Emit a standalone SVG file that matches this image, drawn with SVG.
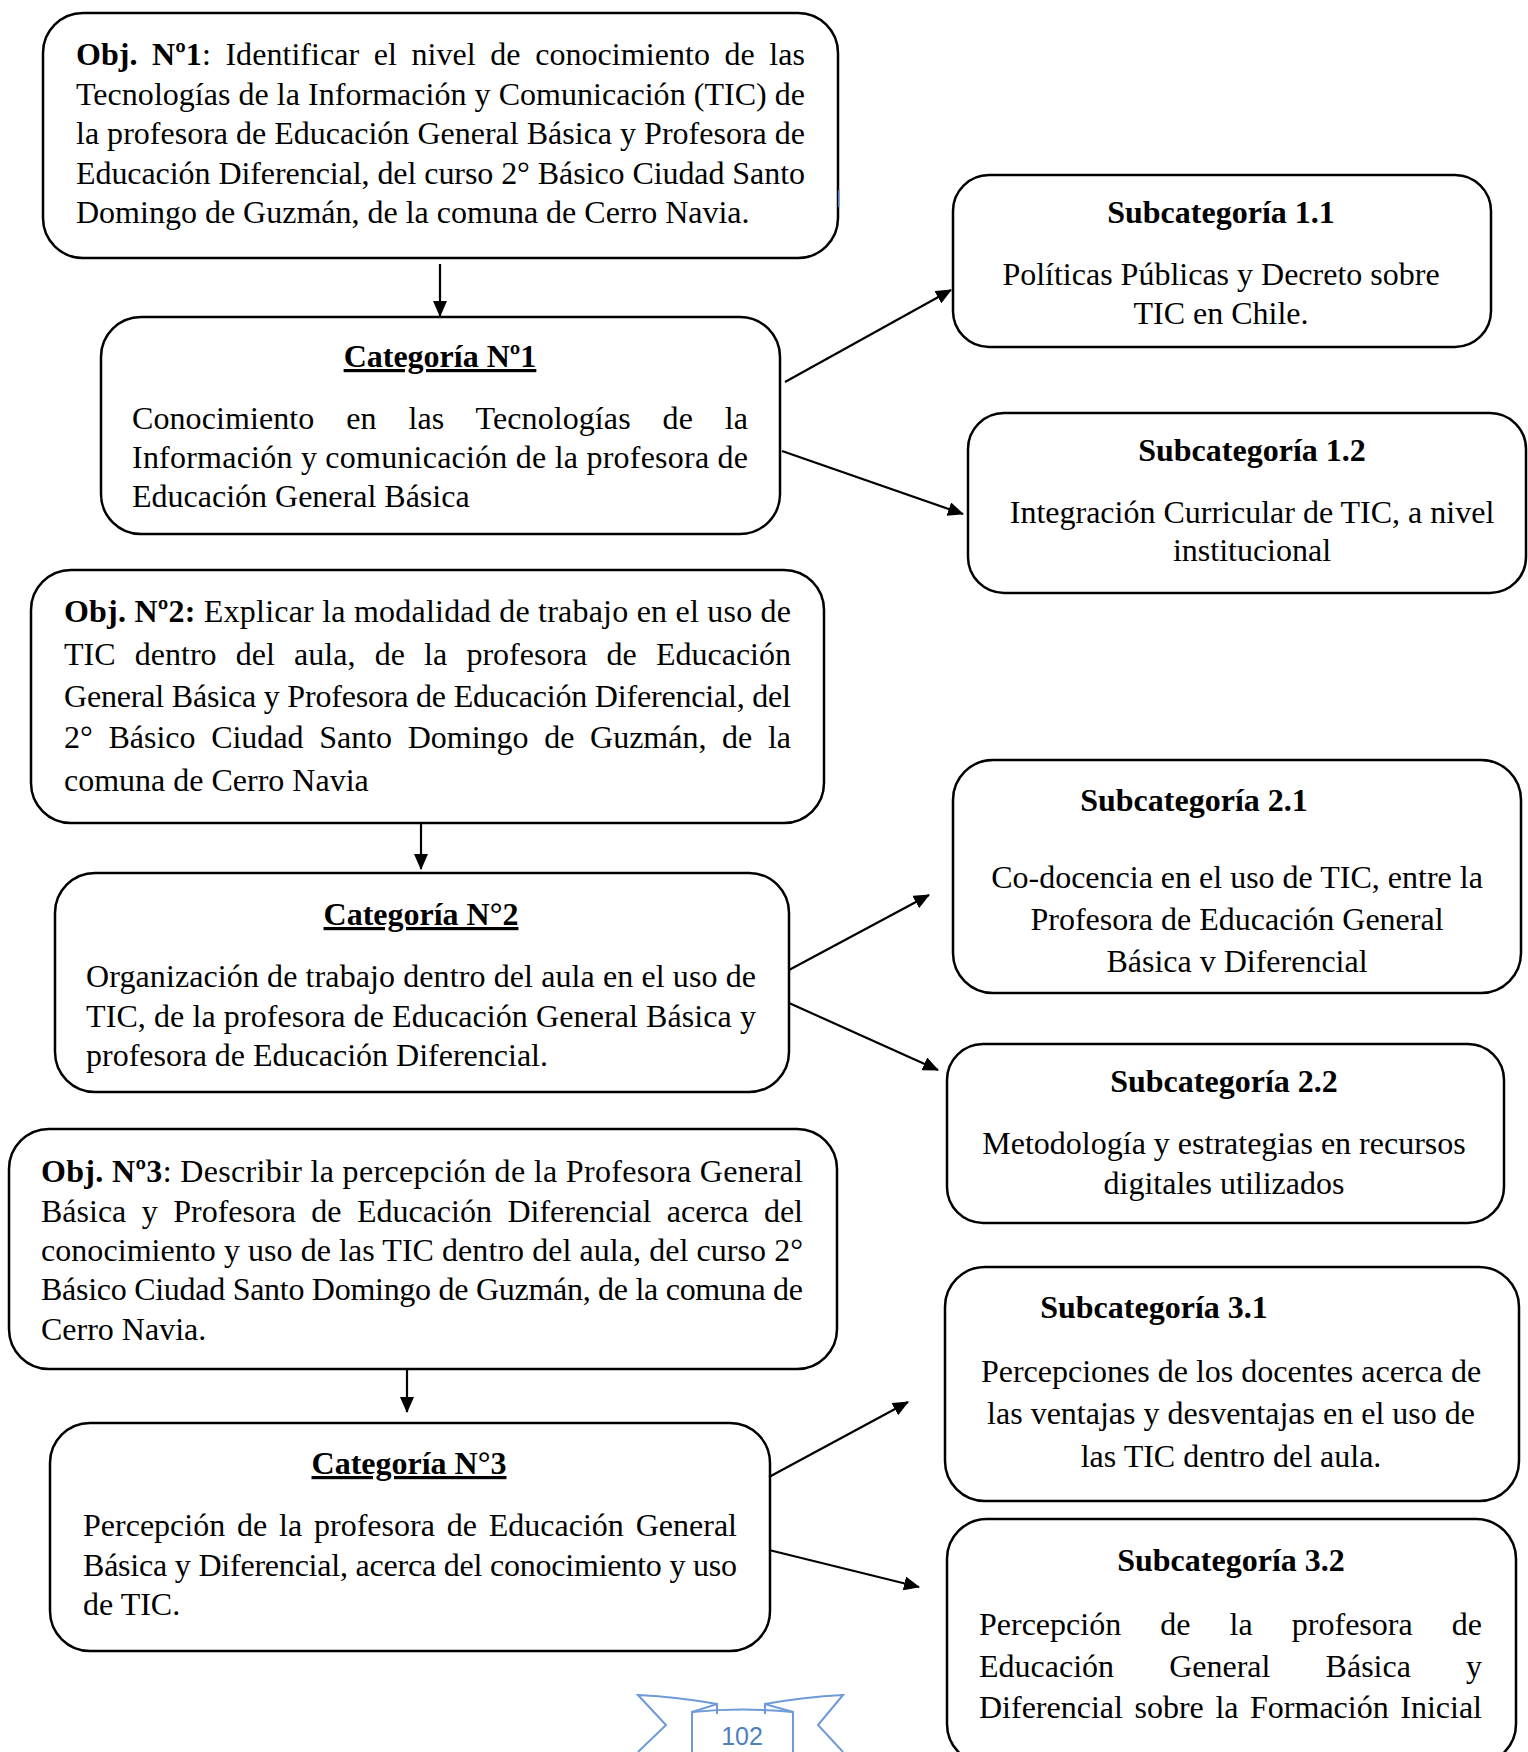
<svg xmlns="http://www.w3.org/2000/svg" width="1528" height="1752" viewBox="0 0 1528 1752">
<defs>
<style>
.box{fill:#fff;stroke:#000;stroke-width:2.5}
.t{font-family:"Liberation Serif","Times New Roman",serif;font-size:32px;fill:#000}
.b{font-weight:bold}
.u{text-decoration:underline}
.c{text-anchor:middle}
.conn line{stroke:#000;stroke-width:2.2;marker-end:url(#ah)}
</style>
<marker id="ah" markerUnits="userSpaceOnUse" markerWidth="16" markerHeight="14" refX="15" refY="7" orient="auto">
<path d="M0,0 L16,7 L0,14 Z" fill="#000"/>
</marker>
</defs>
<rect width="1528" height="1752" fill="#fff"/>

<g id="obj1">
<rect class="box" x="43" y="13" width="795" height="245" rx="40"/>
<text class="t" x="76" y="65" textLength="729" lengthAdjust="spacing" word-spacing="6.5"><tspan class="b">Obj. Nº1</tspan>: Identificar el nivel de conocimiento de las</text>
<text class="t" x="76" y="104.5" textLength="729" lengthAdjust="spacing">Tecnologías de la Información y Comunicación (TIC) de</text>
<text class="t" x="76" y="144" textLength="729" lengthAdjust="spacing">la profesora de Educación General Básica y Profesora de</text>
<text class="t" x="76" y="183.5" textLength="729" lengthAdjust="spacing">Educación Diferencial, del curso 2° Básico Ciudad Santo</text>
<text class="t" x="76" y="223">Domingo de Guzmán, de la comuna de Cerro Navia.</text>
</g>

<g id="cat1">
<rect class="box" x="101" y="317" width="679" height="217" rx="40"/>
<text class="t b u c" x="440" y="367">Categoría Nº1</text>
<text class="t" x="132" y="429" textLength="616" lengthAdjust="spacing" word-spacing="23.8">Conocimiento en las Tecnologías de la</text>
<text class="t" x="132" y="468" textLength="616" lengthAdjust="spacing">Información y comunicación de la profesora de</text>
<text class="t" x="132" y="507">Educación General Básica</text>
</g>

<g id="sub11">
<rect class="box" x="953" y="175" width="538" height="172" rx="36"/>
<text class="t b c" x="1221" y="223">Subcategoría 1.1</text>
<text class="t c" x="1221" y="285">Políticas Públicas y Decreto sobre</text>
<text class="t c" x="1221" y="324">TIC en Chile.</text>
</g>

<g id="sub12">
<rect class="box" x="968" y="413" width="558" height="180" rx="36"/>
<text class="t b c" x="1252" y="461">Subcategoría 1.2</text>
<text class="t c" x="1252" y="523">Integración Curricular de TIC, a nivel</text>
<text class="t c" x="1252" y="561">institucional</text>
</g>

<g id="obj2">
<rect class="box" x="31" y="570" width="793" height="253" rx="40"/>
<text class="t" x="64" y="622" textLength="727" lengthAdjust="spacing"><tspan class="b">Obj. Nº2:</tspan> Explicar la modalidad de trabajo en el uso de</text>
<text class="t" x="64" y="665" textLength="727" lengthAdjust="spacing" word-spacing="11.2">TIC dentro del aula, de la profesora de Educación</text>
<text class="t" x="64" y="707" textLength="727" lengthAdjust="spacing">General Básica y Profesora de Educación Diferencial, del</text>
<text class="t" x="64" y="748" textLength="727" lengthAdjust="spacing" word-spacing="7.6">2° Básico Ciudad Santo Domingo de Guzmán, de la</text>
<text class="t" x="64" y="791">comuna de Cerro Navia</text>
</g>

<g id="cat2">
<rect class="box" x="55" y="873" width="734" height="219" rx="40"/>
<text class="t b u c" x="421" y="925">Categoría N°2</text>
<text class="t" x="86" y="987" textLength="670" lengthAdjust="spacing">Organización de trabajo dentro del aula en el uso de</text>
<text class="t" x="86" y="1027" textLength="670" lengthAdjust="spacing">TIC, de la profesora de Educación General Básica y</text>
<text class="t" x="86" y="1066">profesora de Educación Diferencial.</text>
</g>

<g id="sub21">
<rect class="box" x="953" y="760" width="568" height="233" rx="40"/>
<text class="t b c" x="1194" y="811">Subcategoría 2.1</text>
<text class="t c" x="1237" y="888">Co-docencia en el uso de TIC, entre la</text>
<text class="t c" x="1237" y="930">Profesora de Educación General</text>
<text class="t c" x="1237" y="972">Básica v Diferencial</text>
</g>

<g id="sub22">
<rect class="box" x="947" y="1044" width="557" height="179" rx="36"/>
<text class="t b c" x="1224" y="1092">Subcategoría 2.2</text>
<text class="t c" x="1224" y="1154">Metodología y estrategias en recursos</text>
<text class="t c" x="1224" y="1194">digitales utilizados</text>
</g>

<g id="obj3">
<rect class="box" x="9" y="1129" width="828" height="240" rx="40"/>
<text class="t" x="41" y="1182" textLength="762" lengthAdjust="spacing"><tspan class="b">Obj. Nº3</tspan>: Describir la percepción de la Profesora General</text>
<text class="t" x="41" y="1222" textLength="762" lengthAdjust="spacing" word-spacing="7.4">Básica y Profesora de Educación Diferencial acerca del</text>
<text class="t" x="41" y="1261" textLength="762" lengthAdjust="spacing">conocimiento y uso de las TIC dentro del aula, del curso 2°</text>
<text class="t" x="41" y="1300" textLength="762" lengthAdjust="spacing">Básico Ciudad Santo Domingo de Guzmán, de la comuna de</text>
<text class="t" x="41" y="1340">Cerro Navia.</text>
</g>

<g id="cat3">
<rect class="box" x="50" y="1423" width="720" height="228" rx="40"/>
<text class="t b u c" x="409" y="1474">Categoría N°3</text>
<text class="t" x="83" y="1536" textLength="654" lengthAdjust="spacing" word-spacing="3.8">Percepción de la profesora de Educación General</text>
<text class="t" x="83" y="1576" textLength="654" lengthAdjust="spacing">Básica y Diferencial, acerca del conocimiento y uso</text>
<text class="t" x="83" y="1615">de TIC.</text>
</g>

<g id="sub31">
<rect class="box" x="945" y="1267" width="574" height="234" rx="40"/>
<text class="t b c" x="1154" y="1318">Subcategoría 3.1</text>
<text class="t c" x="1231" y="1382">Percepciones de los docentes acerca de</text>
<text class="t c" x="1231" y="1424">las ventajas y desventajas en el uso de</text>
<text class="t c" x="1231" y="1467">las TIC dentro del aula.</text>
</g>

<g id="sub32">
<rect class="box" x="947" y="1519" width="569" height="245" rx="40"/>
<text class="t b c" x="1231" y="1571">Subcategoría 3.2</text>
<text class="t" x="979" y="1635" textLength="503" lengthAdjust="spacing" word-spacing="31.1">Percepción de la profesora de</text>
<text class="t" x="979" y="1677" textLength="503" lengthAdjust="spacing" word-spacing="47.1">Educación General Básica y</text>
<text class="t" x="979" y="1718" textLength="503" lengthAdjust="spacing" word-spacing="3.6">Diferencial sobre la Formación Inicial</text>
</g>

<g id="connectors" class="conn">
<line x1="440" y1="264" x2="440" y2="316"/>
<line x1="785" y1="382" x2="951" y2="290"/>
<line x1="782" y1="451" x2="963" y2="514"/>
<line x1="421" y1="824" x2="421" y2="869"/>
<line x1="789" y1="970" x2="929" y2="895"/>
<line x1="789" y1="1003" x2="938" y2="1070"/>
<line x1="407" y1="1369" x2="407" y2="1412"/>
<line x1="769" y1="1477" x2="908" y2="1402"/>
<line x1="769" y1="1550" x2="919" y2="1587"/>
</g>

<g id="page-number">
<g fill="none" stroke="#6f9ad8" stroke-width="2">
<path d="M717,1704 Q678,1697 638,1695 L666,1725 L638,1752"/>
<path d="M765,1704 Q804,1697 843,1695 L818,1725 L843,1752"/>
<path d="M692,1752 L692,1712 Q742,1707 793,1712 L793,1752"/>
<path d="M692,1712 L717,1704 L717,1714 M793,1712 L765,1704 L765,1714"/>
</g>
<text x="742" y="1745" font-family="Liberation Sans, Arial, sans-serif" font-size="25" fill="#4f81bd" text-anchor="middle">102</text>
</g>
<line x1="839" y1="190" x2="839" y2="207" stroke="#6f9ad8" stroke-width="1.5"/>
</svg>
